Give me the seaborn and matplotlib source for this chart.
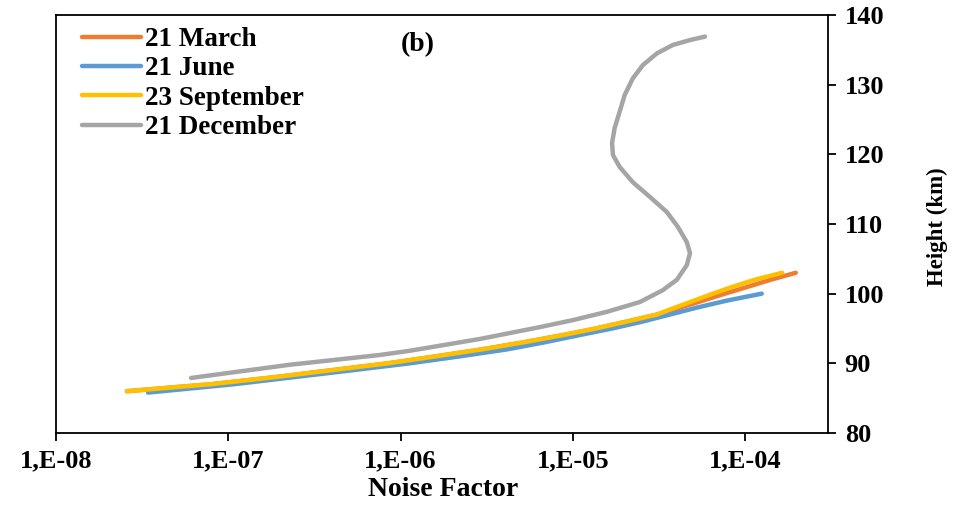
import numpy as np
import pandas as pd
import matplotlib
matplotlib.use("Agg")
import matplotlib.pyplot as plt
import matplotlib.ticker as mticker
from matplotlib.lines import Line2D
import seaborn as sns

# ---- data ----
series_names = ["21 March", "21 June", "23 September", "21 December"]

march_height = [86, 87, 88, 89, 90, 91, 92, 93, 94, 95, 96, 97, 98, 99, 100, 101, 102, 103]
march_noise = [2.58e-8, 7.94e-8, 1.84e-7, 3.94e-7, 8.45e-7, 1.60e-6, 2.96e-6, 5.13e-6, 8.53e-6,
               1.36e-5, 2.06e-5, 3.08e-5, 4.19e-5, 5.69e-5, 7.64e-5, 1.04e-4, 1.41e-4, 1.97e-4]

june_height = [85.8, 87, 88, 89, 90, 91, 92, 93, 94, 95, 96, 97, 98, 99, 100]
june_noise = [3.42e-8, 1.08e-7, 2.38e-7, 5.23e-7, 1.13e-6, 2.21e-6, 4.15e-6, 6.80e-6, 1.07e-5,
              1.69e-5, 2.55e-5, 3.66e-5, 5.25e-5, 7.83e-5, 1.25e-4]

sept_height = [86, 87, 88, 89, 90, 91, 92, 93, 94, 95, 96, 97, 98, 99, 100, 101, 102, 103]
sept_noise = [2.58e-8, 7.94e-8, 1.84e-7, 3.94e-7, 8.45e-7, 1.60e-6, 2.96e-6, 5.13e-6, 8.53e-6,
              1.36e-5, 2.06e-5, 3.08e-5, 3.92e-5, 5.05e-5, 6.50e-5, 8.49e-5, 1.14e-4, 1.64e-4]

dec_height = [87.9, 89.8, 91.2, 91.8, 93.5, 95.2, 96.2, 97.4, 98.8, 100.5, 102.0, 104.1, 105.8,
              107.4, 109.6, 111.7, 113.9, 116.0, 118.2, 119.9, 121.6, 123.8, 126.1, 128.5,
              130.9, 132.8, 134.5, 135.7, 136.4, 136.9]
dec_noise = [6.08e-8, 2.28e-7, 7.59e-7, 1.13e-6, 2.89e-6, 6.44e-6, 1.00e-5, 1.58e-5, 2.45e-5,
             3.33e-5, 4.02e-5, 4.59e-5, 4.79e-5, 4.59e-5, 4.07e-5, 3.52e-5, 2.80e-5, 2.23e-5,
             1.87e-5, 1.71e-5, 1.69e-5, 1.75e-5, 1.87e-5, 2.00e-5, 2.23e-5, 2.55e-5, 3.08e-5,
             3.81e-5, 4.79e-5, 5.85e-5]

x_ticks = [1e-8, 1e-7, 1e-6, 1e-5, 1e-4]
x_tick_labels = ["1,E-08", "1,E-07", "1,E-06", "1,E-05", "1,E-04"]
y_ticks = [80, 90, 100, 110, 120, 130, 140]

colors = {"21 March": "#ED7D31", "21 June": "#5B9BD5",
          "23 September": "#FFC000", "21 December": "#A5A5A5"}

# ---- build long-form table ----
frames = []
for name, h, n in [("21 March", march_height, march_noise),
                   ("21 June", june_height, june_noise),
                   ("23 September", sept_height, sept_noise),
                   ("21 December", dec_height, dec_noise)]:
    frames.append(pd.DataFrame({"Noise": n, "Height": h, "Series": name}))
df = pd.concat(frames, ignore_index=True)

sns.set_theme(style="white")
plt.rcParams["font.family"] = ["Liberation Serif", "DejaVu Serif"]
plt.rcParams["axes.linewidth"] = 1.3
plt.rcParams["text.color"] = "black"
plt.rcParams["axes.labelcolor"] = "black"
plt.rcParams["xtick.color"] = "black"
plt.rcParams["ytick.color"] = "black"

fig = plt.figure(figsize=(9.73, 5.05), dpi=100)
ax = fig.add_axes([56 / 973, 72 / 505, (828 - 56) / 973, (433 - 15) / 505])

sns.lineplot(data=df, x="Noise", y="Height", hue="Series", hue_order=series_names,
             palette=colors, sort=False, estimator=None, units="Series",
             linewidth=3.2, ax=ax, legend=False)
for line in ax.lines:
    line.set_solid_capstyle("round")
    line.set_solid_joinstyle("round")

ax.set_xscale("log")
ax.set_xlim(1e-8, 3.03e-4)
ax.set_ylim(80, 140)
ax.xaxis.set_major_locator(mticker.FixedLocator(x_ticks))
ax.xaxis.set_major_formatter(mticker.FixedFormatter(x_tick_labels))
ax.xaxis.set_minor_locator(mticker.NullLocator())
ax.set_yticks(y_ticks)

ax.yaxis.tick_right()
ax.yaxis.set_label_position("right")
ax.tick_params(axis="both", which="major", direction="out", length=6, width=1.3,
               colors="black", labelsize=19)
ax.tick_params(axis="x", bottom=True, pad=6)
ax.tick_params(axis="y", right=True, left=False, pad=6)
for lab in ax.get_xticklabels() + ax.get_yticklabels():
    lab.set_fontweight("bold")

for s in ax.spines.values():
    s.set_visible(True)
    s.set_color("black")

ax.set_xlabel("Noise Factor", fontsize=20, fontweight="bold", color="black")
ax.xaxis.set_label_coords(0.501, -0.136)
ax.xaxis.label.set_va("center")
ax.set_ylabel("Height (km)", fontsize=16.5, fontweight="bold", color="black")
ax.yaxis.set_label_coords(1.1412, 0.493)
ax.yaxis.label.set_va("center")

handles = [Line2D([0], [0], color=colors[n], lw=3.2, solid_capstyle="round") for n in series_names]
leg = ax.legend(handles, series_names, loc="upper left", frameon=False,
                bbox_to_anchor=(0.012, 1.010), handlelength=2.2, handletextpad=0.15,
                labelspacing=0.16, borderaxespad=0.2,
                prop={"family": "Liberation Serif", "size": 19.5, "weight": "bold"})
for t in leg.get_texts():
    t.set_color("black")

ax.text(0.469, 0.928, "(b)", transform=ax.transAxes, fontsize=20, fontweight="bold",
        color="black", ha="center", va="center")

fig.savefig("out.png", dpi=100)
